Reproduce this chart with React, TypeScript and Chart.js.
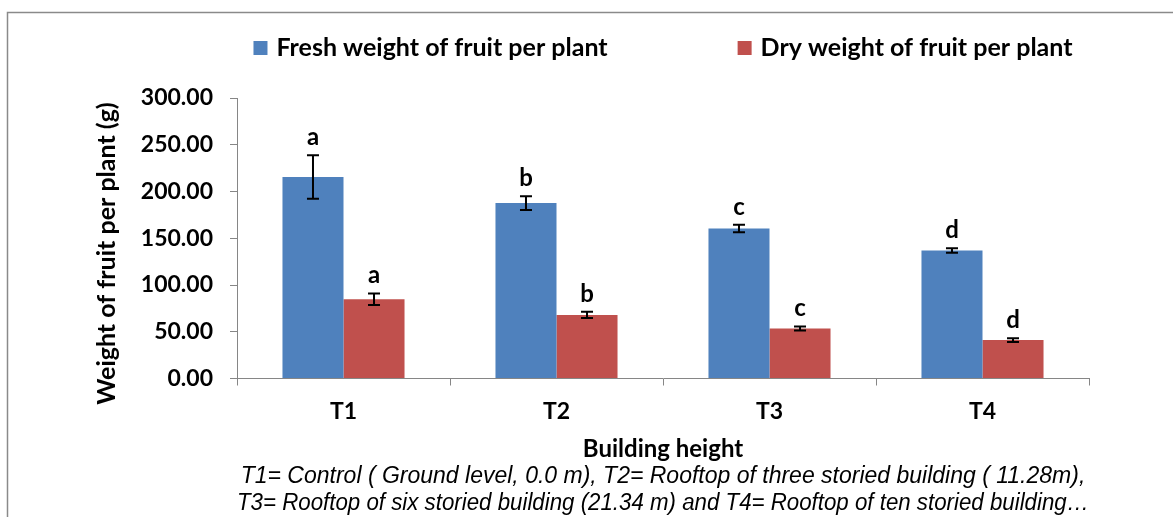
import React, { useEffect, useRef } from "react";
import { Chart, registerables } from "chart.js";

Chart.register(...registerables);

const categories = ["T1", "T2", "T3", "T4"];
const seriesLabels = ["Fresh weight of fruit per plant", "Dry weight of fruit per plant"];
const freshWeight = [215.5, 187.6, 160.4, 136.9];
const freshError = [23.2, 7.4, 4.1, 2.3];
const freshLetters = ["a", "b", "c", "d"];
const dryWeight = [84.8, 68.0, 53.5, 41.1];
const dryError = [6.2, 3.4, 2.2, 2.0];
const dryLetters = ["a", "b", "c", "d"];
const yMin = 0;
const yMax = 300;
const yStep = 50;
const yTitle = "Weight of fruit per plant (g)";
const xTitle = "Building height";
const caption = [
  "T1= Control ( Ground level, 0.0 m), T2= Rooftop of three storied building ( 11.28m),",
  "T3= Rooftop of six storied building (21.34 m) and T4= Rooftop of ten storied building…",
];

const BLUE = "#4F81BD";
const RED = "#C0504D";
const AXIS = "#868686";
const FONT = "Lato, 'Open Sans', sans-serif";

const framePlugin = {
  id: "frame",
  beforeDraw(chart: any) {
    const { ctx, width, height } = chart;
    ctx.save();
    ctx.fillStyle = "#fff";
    ctx.fillRect(0, 0, width, height);
    ctx.strokeStyle = "#8a8a8a";
    ctx.lineWidth = 1.5;
    ctx.strokeRect(7.5, 12.5, width + 20, height + 20);
    ctx.restore();
  },
};

const legendPlugin = {
  id: "customLegend",
  afterDraw(chart: any) {
    const { ctx, chartArea } = chart;
    const ds = chart.data.datasets;
    ctx.save();
    ctx.font = `bold 25px ${FONT}`;
    const box = 14;
    const gapText = 9;
    const gapItem = 130;
    const widths = ds.map((d: any) => ctx.measureText(d.label).width);
    const total = widths.reduce((s: number, w: number) => s + box + gapText + w, 0) + gapItem * (ds.length - 1);
    let x = (chartArea.left + chartArea.right) / 2 - total / 2;
    const cy = 48;
    ds.forEach((d: any, i: number) => {
      ctx.fillStyle = d.backgroundColor;
      ctx.fillRect(x, cy - box / 2, box, box);
      x += box + gapText;
      ctx.fillStyle = "#000";
      ctx.textAlign = "left";
      ctx.textBaseline = "middle";
      ctx.fillText(d.label, x, cy);
      x += widths[i] + gapItem;
    });
    ctx.restore();
  },
};

const yTitlePlugin = {
  id: "yTitle",
  afterDraw(chart: any) {
    const { ctx } = chart;
    ctx.save();
    ctx.translate(107, 253.5);
    ctx.rotate(-Math.PI / 2);
    ctx.font = `bold 25px ${FONT}`;
    ctx.fillStyle = "#000";
    ctx.textAlign = "center";
    ctx.textBaseline = "middle";
    ctx.fillText(yTitle, 0, 0);
    ctx.restore();
  },
};

const errorPlugin = {
  id: "errorBars",
  afterDatasetsDraw(chart: any) {
    const { ctx } = chart;
    const y = chart.scales.y;
    chart.data.datasets.forEach((ds: any, di: number) => {
      const meta = chart.getDatasetMeta(di);
      meta.data.forEach((bar: any, i: number) => {
        const v = ds.data[i];
        const e = ds.errors[i];
        const yt = y.getPixelForValue(v + e);
        const yb = y.getPixelForValue(v - e);
        const cap = 6;
        ctx.save();
        ctx.strokeStyle = "#000";
        ctx.lineWidth = 2;
        ctx.beginPath();
        ctx.moveTo(bar.x, yt);
        ctx.lineTo(bar.x, yb);
        ctx.moveTo(bar.x - cap, yt);
        ctx.lineTo(bar.x + cap, yt);
        ctx.moveTo(bar.x - cap, yb);
        ctx.lineTo(bar.x + cap, yb);
        ctx.stroke();
        ctx.fillStyle = "#000";
        ctx.font = `bold 24px ${FONT}`;
        ctx.textAlign = "center";
        ctx.textBaseline = "alphabetic";
        ctx.fillText(ds.letters[i], bar.x, yt - 10);
        ctx.restore();
      });
    });
  },
};

export default function App() {
  const canvasRef = useRef<HTMLCanvasElement | null>(null);

  useEffect(() => {
    if (!canvasRef.current) return;
    const chart = new Chart(canvasRef.current, {
      type: "bar",
      data: {
        labels: categories,
        datasets: [
          {
            label: seriesLabels[0],
            data: freshWeight,
            backgroundColor: BLUE,
            errors: freshError,
            letters: freshLetters,
          } as any,
          {
            label: seriesLabels[1],
            data: dryWeight,
            backgroundColor: RED,
            errors: dryError,
            letters: dryLetters,
          } as any,
        ],
      },
      options: {
        animation: false,
        responsive: true,
        maintainAspectRatio: false,
        layout: { padding: { top: 98, right: 84, bottom: 0, left: 0 } },
        datasets: { bar: { categoryPercentage: 0.573, barPercentage: 1 } },
        plugins: {
          legend: { display: false },
          tooltip: { enabled: false },
          subtitle: {
            display: true,
            position: "bottom",
            fullSize: false,
            text: caption,
            color: "#000",
            font: { family: "'Liberation Sans', Arial, sans-serif", size: 23, style: "italic", weight: "normal", lineHeight: 27 / 23 },
            padding: { top: 1.5, bottom: 0 },
          },
        },
        scales: {
          x: {
            offset: true,
            grid: { display: true, drawOnChartArea: false, drawTicks: true, tickLength: 7, color: AXIS, offset: true },
            border: { display: true, color: AXIS, width: 1 },
            ticks: { color: "#000", font: { family: FONT, size: 23, weight: "bold" }, padding: 12 },
            title: {
              display: true,
              text: xTitle,
              color: "#000",
              font: { family: FONT, size: 24, weight: "bold", lineHeight: 1 },
              padding: { top: 0, bottom: 0 },
            },
            afterFit(scale: any) {
              scale.height = 83;
            },
          },
          y: {
            min: yMin,
            max: yMax,
            ticks: {
              stepSize: yStep,
              color: "#000",
              font: { family: FONT, size: 23, weight: "bold" },
              padding: 17,
              callback: (v: any) => Number(v).toFixed(2),
            },
            grid: { display: true, drawOnChartArea: false, drawTicks: true, tickLength: 7, color: AXIS },
            border: { display: true, color: AXIS, width: 1 },
            title: { display: false },
            afterFit(scale: any) {
              scale.width = 237;
            },
          },
        },
      },
      plugins: [framePlugin, errorPlugin, legendPlugin, yTitlePlugin],
    });
    return () => chart.destroy();
  }, []);

  return (
    <div style={{ position: "fixed", left: 0, top: 0, width: 1173, height: 517 }}>
      <canvas ref={canvasRef} />
    </div>
  );
}
